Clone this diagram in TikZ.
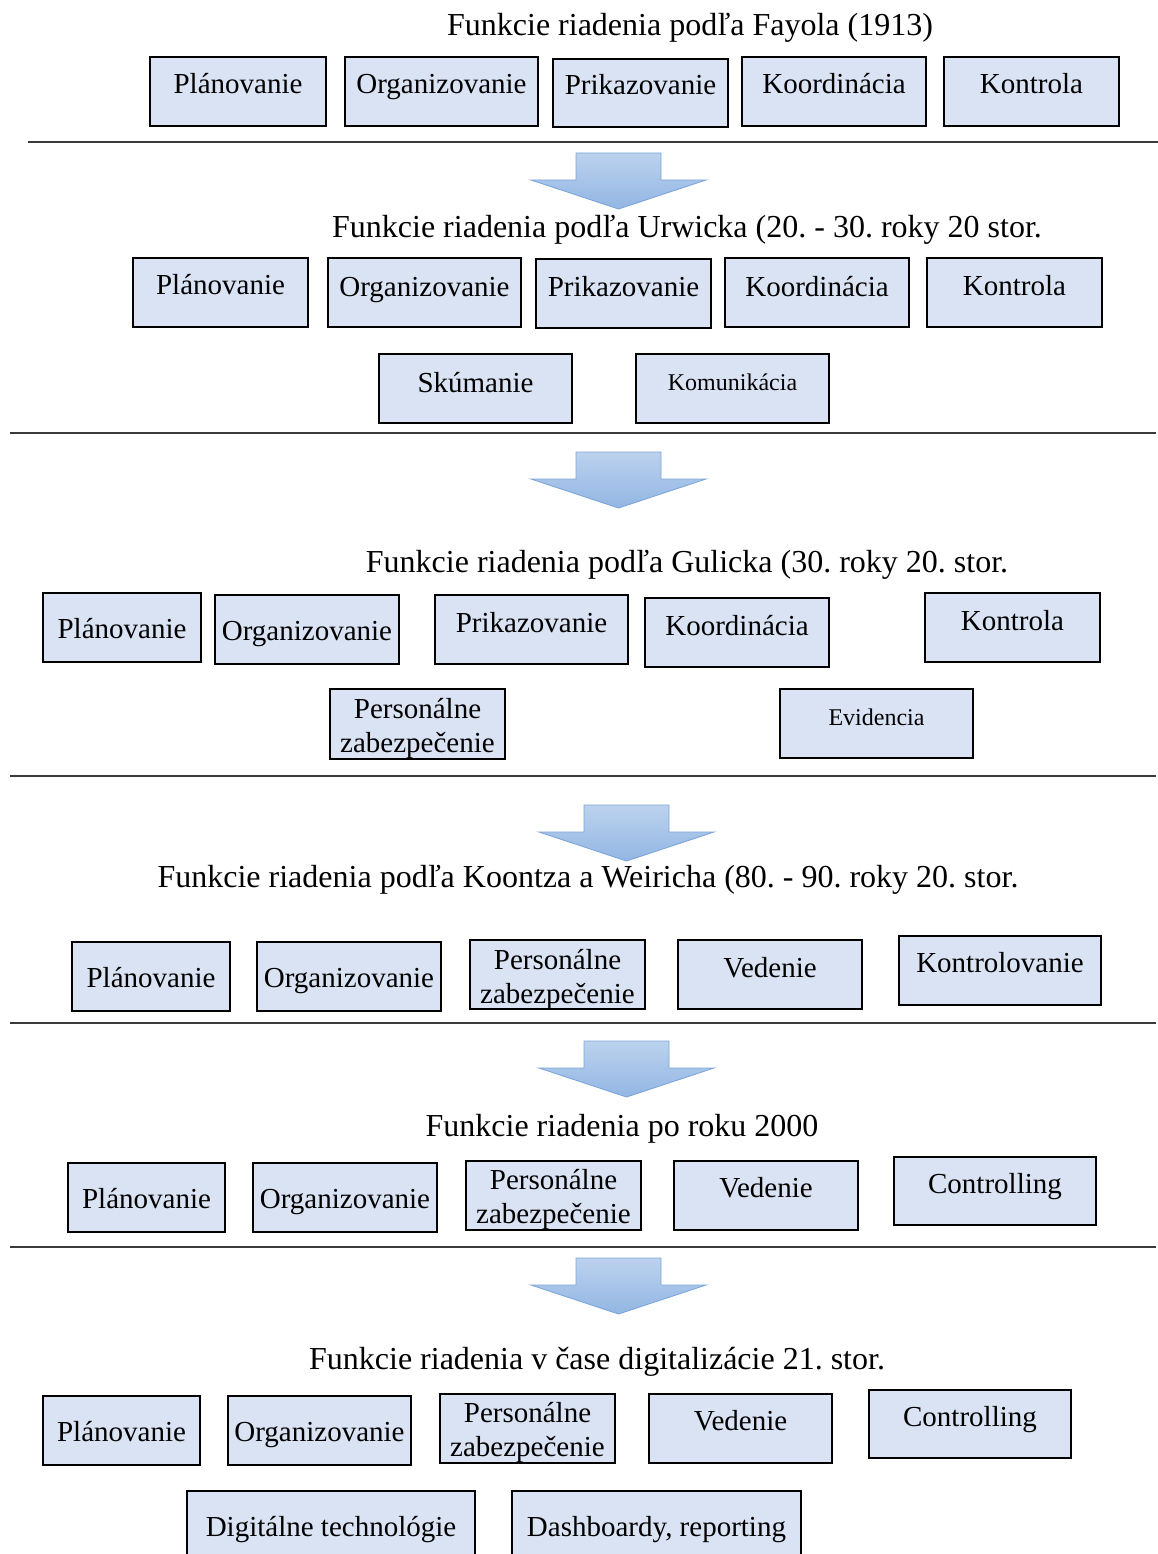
\documentclass[tikz,border=0pt]{standalone}
\usepackage{fontspec}
\setmainfont{Liberation Serif}
\usetikzlibrary{shadings}
\frenchspacing
\definecolor{boxfill}{HTML}{DAE3F3}
\definecolor{arrtop}{HTML}{BCD2EE}
\definecolor{arrbot}{HTML}{92B6E3}
\definecolor{arrline}{HTML}{7EA6DA}
\definecolor{rulecol}{HTML}{3A3A3A}

\tikzset{
  box/.style={draw=black, line width=2.2pt, fill=boxfill, inner sep=0pt, outer sep=0pt},
  lbl/.style={anchor=base, inner sep=0pt, font=\fontsize{29}{34}\selectfont},
  small/.style={anchor=base, inner sep=0pt, font=\fontsize{24}{28}\selectfont},
  title/.style={anchor=base, inner sep=0pt, font=\fontsize{32}{36}\selectfont},
  rule/.style={draw=rulecol, line width=1.3pt},
  blockarrow/.style={top color=arrtop, bottom color=arrbot, draw=arrline, line width=0.9pt, line join=miter}
}

% box: name, x1, y1, x2, y2, label baseline, label style, text
\newcommand{\fnbox}[8]{%
  \node[box, minimum width={(#4-#2)*1pt}, minimum height={(#5-#3)*1pt}]
    (#1) at ({(#2+#4)/2},{(#3+#5)/2}) {};
  \node[#7] (#1-t) at ({(#2+#4)/2},#6) {#8};
}
% two-line label, baseline of the first line given
\newcommand{\twoline}[2]{\begin{tabular}[t]{@{}c@{}}#1\\#2\end{tabular}}

% block arrow pointing down: left x, top y
\newcommand{\blockdown}[2]{%
  \path[blockarrow] (#1+45,#2) -- (#1+130,#2) -- (#1+130,#2+27) -- (#1+175,#2+27)
    -- (#1+87.5,#2+56) -- (#1,#2+27) -- (#1+45,#2+27) -- cycle;
}

\begin{document}
\begin{tikzpicture}[x=1pt, y=-1pt]
\useasboundingbox (0,0) rectangle (1158,1554);
\fill[white] (0,0) rectangle (1158,1554);

% ---------- Fayol ----------
\node[title] (t1) at (690,36) {Funkcie riadenia podľa Fayola (1913)};
\fnbox{a1}{150}{57}{326}{126}{94}{lbl}{Plánovanie}
\fnbox{a2}{345}{57}{538}{126}{94}{lbl}{Organizovanie}
\fnbox{a3}{553}{59}{728}{127}{95}{lbl}{Prikazovanie}
\fnbox{a4}{742}{57}{926}{126}{94}{lbl}{Koordinácia}
\fnbox{a5}{944}{57}{1119}{126}{94}{lbl}{Kontrola}
\draw[rule] (28,142) -- (1158,142);
\blockdown{531}{153}

% ---------- Urwick ----------
\node[title] (t2) at (687,238) {Funkcie riadenia podľa Urwicka (20. - 30. roky 20 stor.};
\fnbox{b1}{133}{258}{308}{327}{294}{lbl}{Plánovanie}
\fnbox{b2}{328}{258}{521}{327}{296}{lbl}{Organizovanie}
\fnbox{b3}{536}{259}{711}{328}{296}{lbl}{Prikazovanie}
\fnbox{b4}{725}{258}{909}{327}{296}{lbl}{Koordinácia}
\fnbox{b5}{927}{258}{1102}{327}{295}{lbl}{Kontrola}
\fnbox{b6}{379}{354}{572}{423}{392}{lbl}{Skúmanie}
\fnbox{b7}{636}{354}{829}{423}{390}{small}{Komunikácia}
\draw[rule] (10,433) -- (1156,433);
\blockdown{531}{452}

% ---------- Gulick ----------
\node[title] (t3) at (687,572) {Funkcie riadenia podľa Gulicka (30. roky 20. stor.};
\fnbox{c1}{43}{593}{201}{662}{638}{lbl}{Plánovanie}
\fnbox{c2}{215}{595}{399}{664}{640}{lbl}{Organizovanie}
\fnbox{c3}{435}{595}{628}{664}{632}{lbl}{Prikazovanie}
\fnbox{c4}{645}{598}{829}{667}{635}{lbl}{Koordinácia}
\fnbox{c5}{925}{593}{1100}{662}{630}{lbl}{Kontrola}
\fnbox{c6}{330}{689}{505}{759}{718}{lbl}{\twoline{Personálne}{zabezpečenie}}
\fnbox{c7}{780}{689}{973}{758}{725}{small}{Evidencia}
\draw[rule] (10,776) -- (1156,776);
\blockdown{539}{805}

% ---------- Koontz a Weirich ----------
\node[title] (t4) at (588,887) {Funkcie riadenia podľa Koontza a Weiricha (80. - 90. roky 20. stor.};
\fnbox{d1}{72}{942}{230}{1011}{987}{lbl}{Plánovanie}
\fnbox{d2}{257}{942}{441}{1011}{987}{lbl}{Organizovanie}
\fnbox{d3}{470}{940}{645}{1009}{969}{lbl}{\twoline{Personálne}{zabezpečenie}}
\fnbox{d4}{678}{940}{862}{1009}{977}{lbl}{Vedenie}
\fnbox{d5}{899}{936}{1101}{1005}{972}{lbl}{Kontrolovanie}
\draw[rule] (10,1023) -- (1156,1023);
\blockdown{539}{1041}

% ---------- po roku 2000 ----------
\node[title] (t5) at (622,1136) {Funkcie riadenia po roku 2000};
\fnbox{e1}{68}{1163}{225}{1232}{1208}{lbl}{Plánovanie}
\fnbox{e2}{253}{1163}{437}{1232}{1208}{lbl}{Organizovanie}
\fnbox{e3}{466}{1161}{641}{1230}{1189}{lbl}{\twoline{Personálne}{zabezpečenie}}
\fnbox{e4}{674}{1161}{858}{1230}{1197}{lbl}{Vedenie}
\fnbox{e5}{894}{1157}{1096}{1225}{1193}{lbl}{Controlling}
\draw[rule] (10,1247) -- (1156,1247);
\blockdown{531}{1258}

% ---------- digitalizácia ----------
\node[title] (t6) at (597,1369) {Funkcie riadenia v čase digitalizácie 21. stor.};
\fnbox{f1}{43}{1396}{200}{1465}{1441}{lbl}{Plánovanie}
\fnbox{f2}{228}{1396}{411}{1465}{1441}{lbl}{Organizovanie}
\fnbox{f3}{440}{1394}{615}{1463}{1422}{lbl}{\twoline{Personálne}{zabezpečenie}}
\fnbox{f4}{649}{1394}{832}{1463}{1430}{lbl}{Vedenie}
\fnbox{f5}{869}{1390}{1071}{1458}{1426}{lbl}{Controlling}
\fnbox{f6}{187}{1491}{475}{1570}{1536}{lbl}{Digitálne technológie}
\fnbox{f7}{512}{1491}{801}{1570}{1536}{lbl}{Dashboardy, reporting}
\end{tikzpicture}
\end{document}
